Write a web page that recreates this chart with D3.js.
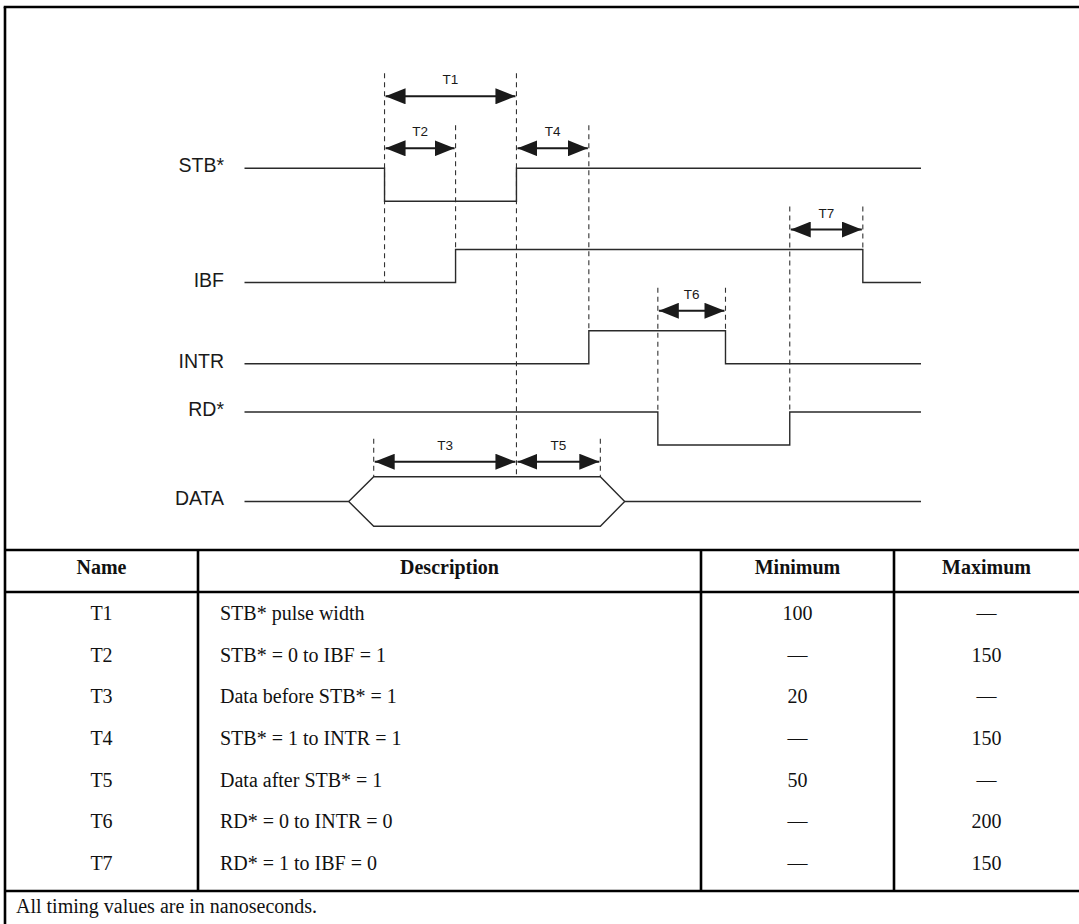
<!DOCTYPE html>
<html>
<head>
<meta charset="utf-8">
<script src="https://cdn.jsdelivr.net/npm/d3@7"></script>
<style>
  body { margin: 0; background: #fff; }
  svg { display: block; }
</style>
</head>
<body>
<svg id="chart" width="1079" height="924"></svg>
<script>
// signal lanes, top to bottom
const lanes = ["STB*", "IBF", "INTR", "RD*", "DATA"];

// waveforms: [time, level] steps (level 1 = high, 0 = low)
const stbWave  = [[0, 1], [20.7, 0], [40.2, 1], [100, 1]];
const ibfWave  = [[0, 0], [31.2, 1], [91.4, 0], [100, 0]];
const intrWave = [[0, 0], [50.9, 1], [71.1, 0], [100, 0]];
const rdWave   = [[0, 1], [61.1, 0], [80.6, 1], [100, 1]];

// data bus: idle, opens, valid from .. to, closes, idle
const busTimes = [0, 15.4, 19.1, 52.6, 56.2, 100];

// timing spans drawn as double arrows
const spanNames = ["T1", "T2", "T4", "T7", "T6", "T3", "T5"];
const spanFrom  = [20.7, 20.7, 40.2, 80.6, 61.1, 19.1, 40.2];
const spanTo    = [40.2, 31.2, 50.9, 91.4, 71.1, 40.2, 52.6];
const spanLane  = [0, 0, 0, 1, 2, 4, 4];
const spanTier  = [1, 0, 0, 0, 0, 0, 0];

// dashed guides: time, and the lane/level where they stop
const guideTimes  = [20.7, 31.2, 40.2, 50.9, 61.1, 71.1, 80.6, 91.4, 19.1, 52.6];
const guideLane   = [1, 1, 4, 2, 3, 2, 3, 1, 4, 4];
const guideLevel  = [0, 1, 1.5, 1, 1, 1, 1, 1, 1.5, 1.5];

// table
const headers = ["Name", "Description", "Minimum", "Maximum"];
const names = ["T1", "T2", "T3", "T4", "T5", "T6", "T7"];
const descriptions = [
  "STB* pulse width",
  "STB* = 0 to IBF = 1",
  "Data before STB* = 1",
  "STB* = 1 to INTR = 1",
  "Data after STB* = 1",
  "RD* = 0 to INTR = 0",
  "RD* = 1 to IBF = 0"
];
const minimums = ["100", "\u2014", "20", "\u2014", "50", "\u2014", "\u2014"];
const maximums = ["\u2014", "150", "\u2014", "150", "\u2014", "200", "150"];
const footnote = "All timing values are in nanoseconds.";

const svg = d3.select("#chart");
const ink = "#2a2a2a";

const x = d3.scaleLinear().domain([0, 100]).range([244.5, 921]);
const laneY = d3.scaleLinear().domain([0, 3]).range([201.3, 445]);
const levelPx = 33;
function yOf(lane, level) { return laneY(lane) - level * levelPx; }

const diagram = svg.append("g");

// arrowhead markers
const defs = svg.append("defs");
defs.append("marker")
    .attr("id", "head")
    .attr("viewBox", "0 0 20 16")
    .attr("refX", 20).attr("refY", 8)
    .attr("markerWidth", 20).attr("markerHeight", 16)
    .attr("markerUnits", "userSpaceOnUse")
    .attr("orient", "auto-start-reverse")
  .append("path")
    .attr("d", "M0,0 L20,8 L0,16 Z")
    .attr("fill", "#1a1a1a");

// spans -> arrow y
function spanY(i) {
  let lane = spanLane[i];
  let top = lane === 4 ? yOf(4, 1.5) : yOf(lane, 1);
  let gap = lane === 4 ? 15 : 20;
  return top - gap - spanTier[i] * 52;
}

// dashed guides
guideTimes.forEach(function(t, i) {
  let ys = [];
  spanNames.forEach(function(n, j) {
    if (Math.abs(spanFrom[j] - t) < 0.01 || Math.abs(spanTo[j] - t) < 0.01) ys.push(spanY(j));
  });
  let top = d3.min(ys) - 23;
  diagram.append("line")
      .attr("x1", x(t)).attr("x2", x(t))
      .attr("y1", top).attr("y2", yOf(guideLane[i], guideLevel[i]))
      .attr("stroke", "#333")
      .attr("stroke-width", 1.1)
      .attr("stroke-dasharray", "5,4");
});

// waveforms
const step = d3.line()
    .x(d => x(d[0]))
    .curve(d3.curveStepAfter);

[stbWave, ibfWave, intrWave, rdWave].forEach(function(w, lane) {
  diagram.append("path")
      .attr("d", step.y(d => yOf(lane, d[1]))(w))
      .attr("fill", "none")
      .attr("stroke", ink)
      .attr("stroke-width", 1.4);
});

// data bus
const busLine = d3.line().x(d => x(d[0])).y(d => yOf(4, d[1]));
const busMid = 0.75, busTop = 1.5, busBot = 0;
diagram.append("path")
    .attr("d", busLine([[busTimes[0], busMid], [busTimes[1], busMid]]))
    .attr("fill", "none").attr("stroke", ink).attr("stroke-width", 1.4);
diagram.append("path")
    .attr("d", busLine([
      [busTimes[1], busMid], [busTimes[2], busTop], [busTimes[3], busTop],
      [busTimes[4], busMid], [busTimes[3], busBot], [busTimes[2], busBot]
    ]) + "Z")
    .attr("fill", "none").attr("stroke", ink).attr("stroke-width", 1.4);
diagram.append("path")
    .attr("d", busLine([[busTimes[4], busMid], [busTimes[5], busMid]]))
    .attr("fill", "none").attr("stroke", ink).attr("stroke-width", 1.4);

// lane labels
lanes.forEach(function(name, lane) {
  let base = lane === 4 ? yOf(4, busMid) : (name === "RD*" ? yOf(lane, 1) : yOf(lane, name === "STB*" ? 1 : 0));
  diagram.append("text")
      .attr("x", 224)
      .attr("y", base + 4)
      .attr("text-anchor", "end")
      .attr("font-family", "Liberation Sans, Arial, sans-serif")
      .attr("font-size", 19.5)
      .attr("fill", "#1a1a1a")
      .text(name);
});

// span arrows + labels
spanNames.forEach(function(n, i) {
  let y = spanY(i);
  diagram.append("line")
      .attr("x1", x(spanFrom[i]) + 1).attr("x2", x(spanTo[i]) - 1)
      .attr("y1", y).attr("y2", y)
      .attr("stroke", "#1a1a1a")
      .attr("stroke-width", 2)
      .attr("marker-start", "url(#head)")
      .attr("marker-end", "url(#head)");
  diagram.append("text")
      .attr("x", (x(spanFrom[i]) + x(spanTo[i])) / 2)
      .attr("y", y - 12)
      .attr("text-anchor", "middle")
      .attr("font-family", "Liberation Sans, Arial, sans-serif")
      .attr("font-size", 13.5)
      .attr("fill", "#1a1a1a")
      .text(n);
});

// ---- table ----
const colEdges = [5, 198, 701, 894, 1079];
const headTop = 550, headBot = 592, tableBot = 891;
const rowY = d3.scaleBand().domain(names).range([591, 883]);
const table = svg.append("g")
    .attr("font-family", "Liberation Serif, Times New Roman, serif")
    .attr("font-size", 20)
    .attr("fill", "#111");

// frame
function hline(y, x1, x2) {
  svg.append("line").attr("x1", x1).attr("x2", x2).attr("y1", y).attr("y2", y)
     .attr("stroke", "#000").attr("stroke-width", 2.6);
}
function vline(xv, y1, y2) {
  svg.append("line").attr("x1", xv).attr("x2", xv).attr("y1", y1).attr("y2", y2)
     .attr("stroke", "#000").attr("stroke-width", 2.6);
}
hline(7, colEdges[0] - 1.3, 1079);
vline(colEdges[0], 7, 924);
hline(headTop, colEdges[0], 1079);
hline(headBot, colEdges[0], 1079);
hline(tableBot, colEdges[0], 1079);
colEdges.slice(1, 4).forEach(c => vline(c, headTop, tableBot));

headers.forEach(function(h, i) {
  table.append("text")
      .attr("x", (colEdges[i] + colEdges[i + 1]) / 2)
      .attr("y", 574)
      .attr("text-anchor", "middle")
      .attr("font-weight", "bold")
      .text(h);
});

names.forEach(function(n, i) {
  let base = rowY(n) + rowY.bandwidth() / 2 + 8;
  table.append("text")
      .attr("x", (colEdges[0] + colEdges[1]) / 2).attr("y", base)
      .attr("text-anchor", "middle").text(n);
  table.append("text")
      .attr("x", colEdges[1] + 22).attr("y", base)
      .text(descriptions[i]);
  table.append("text")
      .attr("x", (colEdges[2] + colEdges[3]) / 2).attr("y", base)
      .attr("text-anchor", "middle").text(minimums[i]);
  table.append("text")
      .attr("x", (colEdges[3] + colEdges[4]) / 2).attr("y", base)
      .attr("text-anchor", "middle").text(maximums[i]);
});

table.append("text")
    .attr("x", 16)
    .attr("y", 913)
    .text(footnote);
</script>
</body>
</html>
